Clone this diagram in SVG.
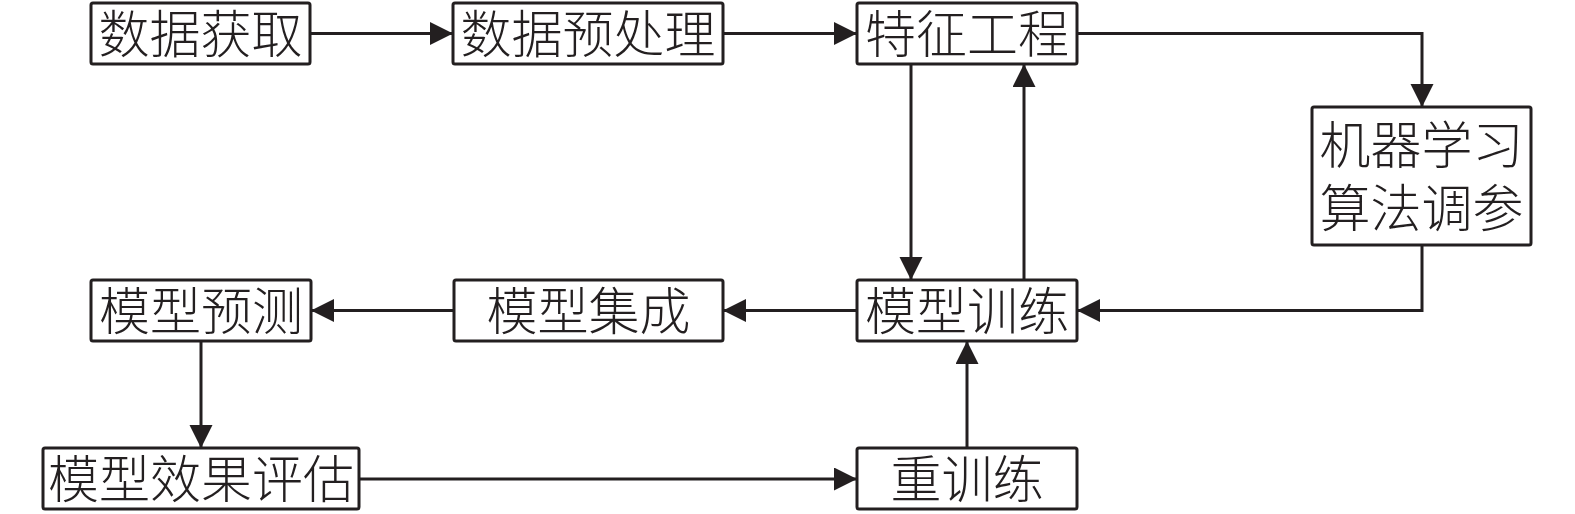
<svg xmlns="http://www.w3.org/2000/svg" width="1575" height="514" viewBox="0 0 1575 514">
<style>
.box{fill:#fff;stroke:#231f20;stroke-width:3;}
.t{font-family:"Noto Sans CJK SC","Liberation Serif",serif;font-size:51px;font-weight:300;fill:#231f20;text-anchor:middle;}
.c{fill:none;stroke:#231f20;stroke-width:3;}
</style>
<defs>
<marker id="ah" markerUnits="userSpaceOnUse" markerWidth="24" markerHeight="24" viewBox="0 0 24 24" refX="23" refY="11.5" orient="auto">
<path d="M0,0 L23,11.5 L0,23 z" fill="#231f20"/>
</marker>
</defs>
<rect width="1575" height="514" fill="#fff"/>
<g id="connectors">
<line class="c" x1="310" y1="33.5" x2="453" y2="33.5" marker-end="url(#ah)"/>
<line class="c" x1="723" y1="33.5" x2="857" y2="33.5" marker-end="url(#ah)"/>
<path class="c" d="M1077,33.5 H1422 V107" marker-end="url(#ah)"/>
<path class="c" d="M1422,245 V310.5 H1077" marker-end="url(#ah)"/>
<line class="c" x1="911" y1="64" x2="911" y2="280" marker-end="url(#ah)"/>
<line class="c" x1="1024" y1="280" x2="1024" y2="64" marker-end="url(#ah)"/>
<line class="c" x1="857" y1="310.5" x2="723" y2="310.5" marker-end="url(#ah)"/>
<line class="c" x1="454" y1="310.5" x2="311" y2="310.5" marker-end="url(#ah)"/>
<line class="c" x1="201" y1="341" x2="201" y2="448" marker-end="url(#ah)"/>
<line class="c" x1="359" y1="479" x2="857" y2="479" marker-end="url(#ah)"/>
<line class="c" x1="967" y1="448" x2="967" y2="341" marker-end="url(#ah)"/>
</g>
<g id="n1"><rect class="box" x="91" y="3" width="219" height="61" rx="2"/><text class="t" x="200.5" y="52.5">数据获取</text></g>
<g id="n2"><rect class="box" x="453" y="3" width="270" height="61" rx="2"/><text class="t" x="588" y="52.5">数据预处理</text></g>
<g id="n3"><rect class="box" x="857" y="3" width="220" height="61" rx="2"/><text class="t" x="967" y="52.5">特征工程</text></g>
<g id="n4"><rect class="box" x="1312" y="107" width="219" height="138" rx="2"/><text class="t" x="1421.5" y="164">机器学习</text><text class="t" x="1421.5" y="227">算法调参</text></g>
<g id="n5"><rect class="box" x="857" y="280" width="220" height="61" rx="2"/><text class="t" x="967" y="329.5">模型训练</text></g>
<g id="n6"><rect class="box" x="454" y="280" width="269" height="61" rx="2"/><text class="t" x="588.5" y="329.5">模型集成</text></g>
<g id="n7"><rect class="box" x="91" y="280" width="220" height="61" rx="2"/><text class="t" x="201" y="329.5">模型预测</text></g>
<g id="n8"><rect class="box" x="43" y="448" width="316" height="61" rx="2"/><text class="t" x="201" y="497.5">模型效果评估</text></g>
<g id="n9"><rect class="box" x="857" y="448" width="220" height="61" rx="2"/><text class="t" x="967" y="497.5">重训练</text></g>
</svg>
